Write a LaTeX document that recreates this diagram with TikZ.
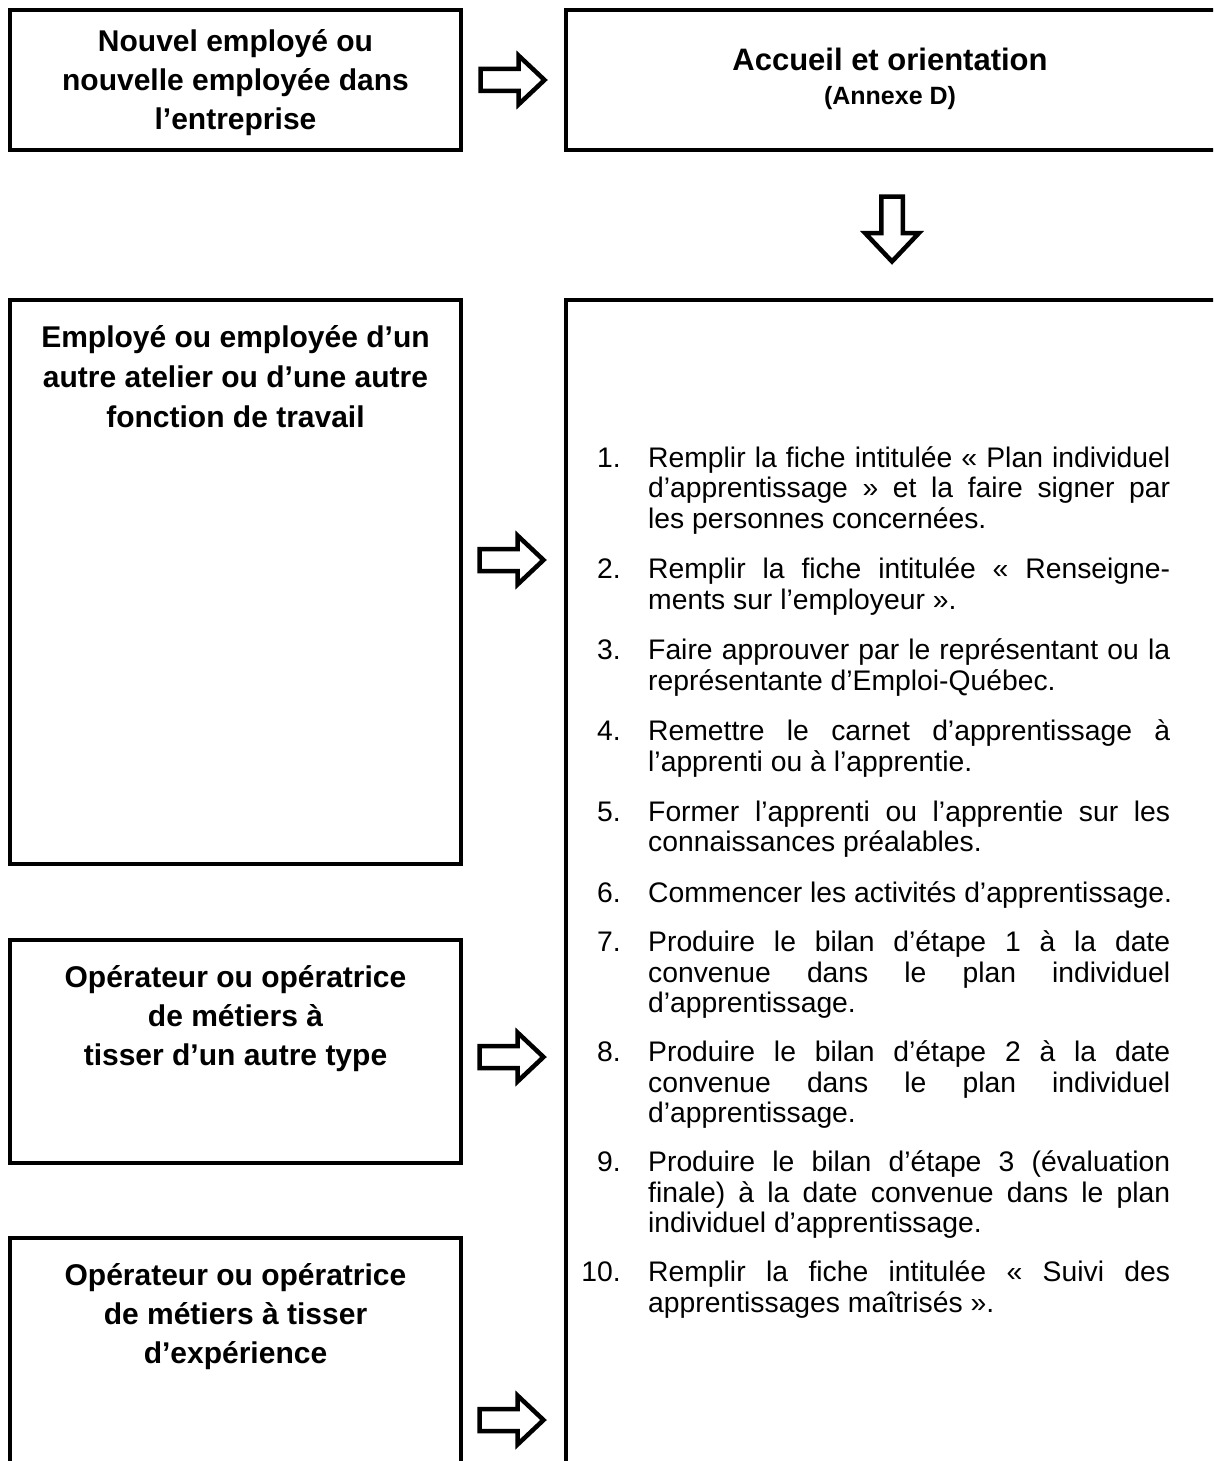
\documentclass[tikz,border=0pt]{standalone}
\usepackage{fontspec}
\setmainfont{Liberation Sans}
\usetikzlibrary{calc}
\newcommand\jl[1]{\makebox[522pt][s]{#1}}
\begin{document}
\begin{tikzpicture}[x=1pt,y=-1pt,
  box/.style={draw, line width=4pt, rectangle, inner sep=0pt, outer sep=0pt, anchor=north west},
  ttl/.style={anchor=base, inner sep=0pt, font=\fontsize{30pt}{39pt}\selectfont\bfseries},
  ttlb/.style={anchor=base, inner sep=0pt, font=\fontsize{31pt}{39pt}\selectfont\bfseries},
  ann/.style={anchor=base, inner sep=0pt, font=\fontsize{25pt}{28pt}\selectfont\bfseries},
  num/.style={anchor=base east, inner sep=0pt, font=\fontsize{28.3pt}{30.5pt}\selectfont},
  itm/.style={anchor=base west, inner sep=0pt, font=\fontsize{28.3pt}{30.5pt}\selectfont},
  blk/.style={draw, line width=4.5pt, fill=white, line join=miter},
  rblock/.pic={\path[blk] (-33,-11) -- (5,-11) -- (5,-24.5) -- (31,0) -- (5,24.5) -- (5,11) -- (-33,11) -- cycle;},
  dblock/.pic={\path[blk] (-10.75,-33) -- (-10.75,3.5) -- (-27,3.5) -- (0,32) -- (27,3.5) -- (10.75,3.5) -- (10.75,-33) -- cycle;}
]
\clip (0,0) rectangle (1213,1461);
\fill[white] (0,0) rectangle (1213,1461);

% boxes
\node[box, minimum width=451pt, minimum height=140pt] (b1) at (10,10) {};
\node[box, minimum width=654pt, minimum height=140pt] (b2) at (566,10) {};
\node[box, minimum width=451pt, minimum height=564pt] (b3) at (10,300) {};
\node[box, minimum width=451pt, minimum height=223pt] (b4) at (10,940) {};
\node[box, minimum width=451pt, minimum height=240pt] (b5) at (10,1238) {};
\node[box, minimum width=654pt, minimum height=1178pt] (b6) at (566,300) {};

% block arrows
\coordinate (a1) at ($(b1.east)!0.5!(b2.west)$);
\coordinate (a2) at (512.5,560);
\coordinate (a3) at (512.5,1057);
\coordinate (a4) at (512.5,1420);
\coordinate (a5) at (892,229.5);
\pic at (a1) {rblock};
\pic at (a2) {rblock};
\pic at (a3) {rblock};
\pic at (a4) {rblock};
\pic at (a5) {dblock};

% titles
\node[ttl] (t1a) at (235.5,52) {Nouvel employé ou};
\node[ttl] (t1b) at (235.5,91) {nouvelle employée dans};
\node[ttl] (t1c) at (235.5,130) {l’entreprise};

\node[ttlb] (t2a) at (890,71) {Accueil et orientation};
\node[ann] (t2b) at (890,105) {(Annexe D)};

\node[ttl] (t3a) at (235.5,347) {Employé ou employée d’un};
\node[ttl] (t3b) at (235.5,387) {autre atelier ou d’une autre};
\node[ttl] (t3c) at (235.5,427) {fonction de travail};

\node[ttl] (t4a) at (235.5,987) {Opérateur ou opératrice};
\node[ttl] (t4b) at (235.5,1026) {de métiers à};
\node[ttl] (t4c) at (235.5,1065) {tisser d’un autre type};

\node[ttl] (t5a) at (235.5,1285) {Opérateur ou opératrice};
\node[ttl] (t5b) at (235.5,1324) {de métiers à tisser};
\node[ttl] (t5c) at (235.5,1363) {d’expérience};

% list
\node[num] (n1) at (621,467) {1.};
\node[itm] (l1a) at (648,467) {\jl{Remplir la fiche intitulée « Plan individuel}};
\node[itm] (l1b) at (648,497.5) {\jl{d’apprentissage » et la faire signer par}};
\node[itm] (l1c) at (648,528) {les personnes concernées.};

\node[num] (n2) at (621,578.5) {2.};
\node[itm] (l2a) at (648,578.5) {\jl{Remplir la fiche intitulée « Renseigne-}};
\node[itm] (l2b) at (648,609) {ments sur l’employeur ».};

\node[num] (n3) at (621,659.5) {3.};
\node[itm] (l3a) at (648,659.5) {\jl{Faire approuver par le représentant ou la}};
\node[itm] (l3b) at (648,690) {représentante d’Emploi-Québec.};

\node[num] (n4) at (621,740.5) {4.};
\node[itm] (l4a) at (648,740.5) {\jl{Remettre le carnet d’apprentissage à}};
\node[itm] (l4b) at (648,771) {l’apprenti ou à l’apprentie.};

\node[num] (n5) at (621,821) {5.};
\node[itm] (l5a) at (648,821) {\jl{Former l’apprenti ou l’apprentie sur les}};
\node[itm] (l5b) at (648,851.5) {connaissances préalables.};

\node[num] (n6) at (621,902) {6.};
\node[itm] (l6a) at (648,902) {Commencer les activités d’apprentissage.};

\node[num] (n7) at (621,951.5) {7.};
\node[itm] (l7a) at (648,951.5) {\jl{Produire le bilan d’étape 1 à la date}};
\node[itm] (l7b) at (648,982) {\jl{convenue dans le plan individuel}};
\node[itm] (l7c) at (648,1012.5) {d’apprentissage.};

\node[num] (n8) at (621,1061.5) {8.};
\node[itm] (l8a) at (648,1061.5) {\jl{Produire le bilan d’étape 2 à la date}};
\node[itm] (l8b) at (648,1092) {\jl{convenue dans le plan individuel}};
\node[itm] (l8c) at (648,1122.5) {d’apprentissage.};

\node[num] (n9) at (621,1171.5) {9.};
\node[itm] (l9a) at (648,1171.5) {\jl{Produire le bilan d’étape 3 (évaluation}};
\node[itm] (l9b) at (648,1202) {\jl{finale) à la date convenue dans le plan}};
\node[itm] (l9c) at (648,1232.5) {individuel d’apprentissage.};

\node[num] (n10) at (621,1281.5) {10.};
\node[itm] (l10a) at (648,1281.5) {\jl{Remplir la fiche intitulée « Suivi des}};
\node[itm] (l10b) at (648,1312) {apprentissages maîtrisés ».};
\end{tikzpicture}
\end{document}
